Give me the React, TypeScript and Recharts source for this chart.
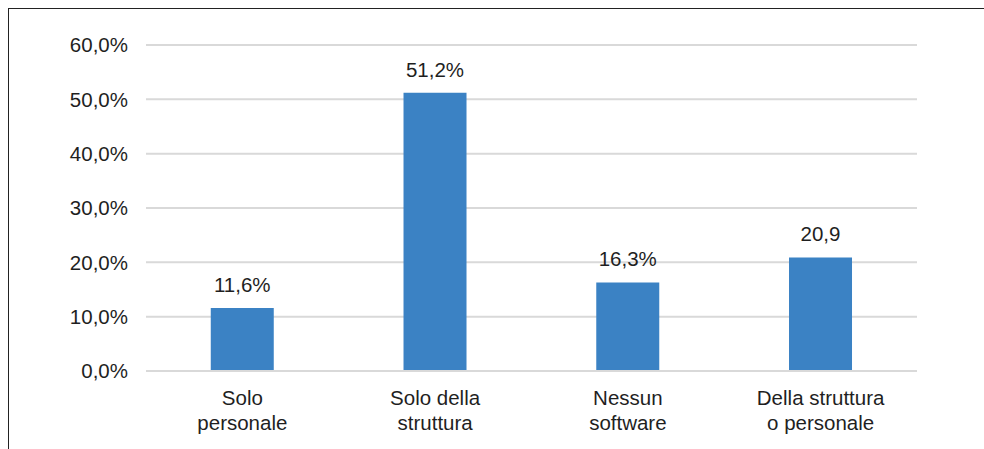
import React from "react";
import { BarChart, Bar, XAxis, YAxis, CartesianGrid, LabelList } from "recharts";

const categories = ["Solo\npersonale", "Solo della\nstruttura", "Nessun\nsoftware", "Della struttura\no personale"];
const values = [11.6, 51.2, 16.3, 20.9];
const valueLabels = ["11,6%", "51,2%", "16,3%", "20,9"];
const yTicks = [0, 10, 20, 30, 40, 50, 60];
const yTickLabels = ["0,0%", "10,0%", "20,0%", "30,0%", "40,0%", "50,0%", "60,0%"];

const data = categories.map((c, i) => ({ name: c, value: values[i], label: valueLabels[i] }));

const FONT = "'Liberation Sans', Arial, sans-serif";
const TEXT = "#1f1f1f";
const FS = 20.5;

const XTick = (props: any) => {
  const { x, y, payload } = props;
  const lines = String(payload.value).split("\n");
  return (
    <text x={x} y={y} textAnchor="middle" fill={TEXT} fontFamily={FONT} fontSize={FS}>
      {lines.map((l, i) => (
        <tspan key={i} x={x} dy={i === 0 ? 26 : 25}>
          {l}
        </tspan>
      ))}
    </text>
  );
};

export default function App() {
  return (
    <div style={{ position: "absolute", left: 0, top: 0, width: 984, height: 449, background: "#fff", overflow: "hidden" }}>
      <div
        style={{
          position: "absolute",
          left: 8,
          top: 8,
          width: 984,
          height: 449,
          borderTop: "1.5px solid #222",
          borderLeft: "1.5px solid #222",
        }}
      />
      <BarChart
        width={984}
        height={449}
        data={data}
        margin={{ top: 45, right: 67, left: 0, bottom: 48 }}
        barCategoryGap="33.6%"
        style={{ position: "absolute", left: 0, top: 0 }}
      >
        <CartesianGrid vertical={false} stroke="#d9d9d9" strokeWidth={2} />
        <XAxis
          dataKey="name"
          height={30}
          tick={<XTick />}
          tickLine={false}
          axisLine={{ stroke: "#d9d9d9", strokeWidth: 2 }}
          interval={0}
        />
        <YAxis
          width={146}
          domain={[0, 60]}
          ticks={yTicks}
          tickFormatter={(v: number) => yTickLabels[yTicks.indexOf(v)]}
          tickLine={false}
          axisLine={false}
          tickMargin={12}
          tick={{ fill: TEXT, fontFamily: FONT, fontSize: FS }}
        />
        <Bar dataKey="value" fill="#3b82c4" isAnimationActive={false}>
          <LabelList dataKey="label" position="top" offset={16} fill={TEXT} fontFamily={FONT} fontSize={FS} />
        </Bar>
      </BarChart>
    </div>
  );
}
